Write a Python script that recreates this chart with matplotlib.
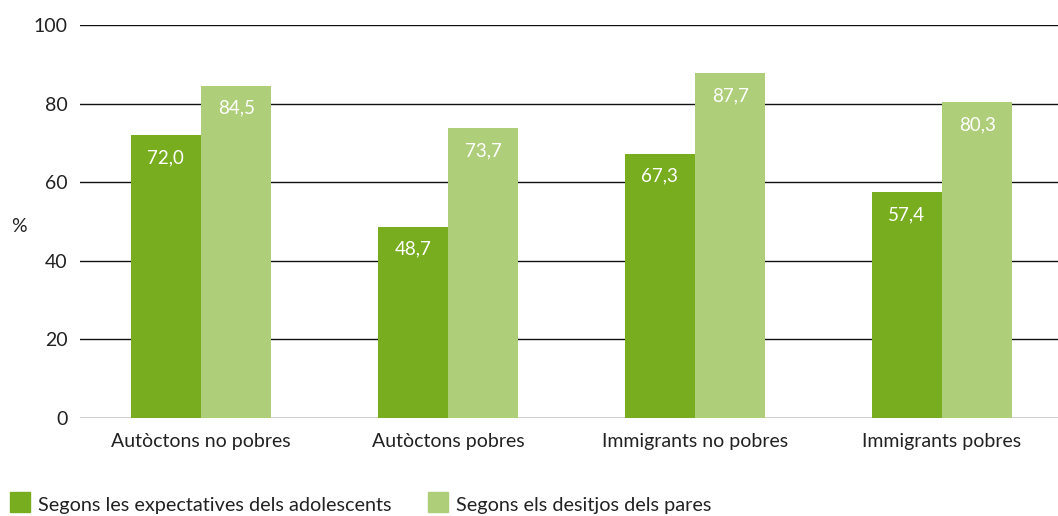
import numpy as np
import matplotlib.pyplot as plt

# data
categories = ['Autòctons no pobres', 'Autòctons pobres', 'Immigrants no pobres', 'Immigrants pobres']
expectatives = [72.0, 48.7, 67.3, 57.4]
desitjos = [84.5, 73.7, 87.7, 80.3]
series_names = ['Segons les expectatives dels adolescents', 'Segons els desitjos dels pares']

dark = '#77ad1f'
light = '#aece7a'

plt.rcParams['font.family'] = ['Lato', 'DejaVu Sans']

fig = plt.figure(figsize=(10.58, 5.16), dpi=100)
ax = fig.add_axes([80 / 1058, 1 - 418 / 516, 1 - 80 / 1058, (418 - 25) / 516])

x = np.arange(len(categories))
w = 0.285
b1 = ax.bar(x - w / 2, expectatives, w, color=dark, zorder=3)
b2 = ax.bar(x + w / 2, desitjos, w, color=light, zorder=3)

for bars, vals in ((b1, expectatives), (b2, desitjos)):
    for rect, v in zip(bars, vals):
        ax.text(rect.get_x() + rect.get_width() / 2, v - 5.7,
                f'{v:.1f}'.replace('.', ','), ha='center', va='center',
                color='white', fontsize=13.5, zorder=4)

ax.set_xlim(-0.49, 3.47)
ax.set_ylim(0, 100)
ax.set_yticks(range(0, 101, 20))
ax.set_xticks(x)
ax.set_xticklabels(categories)
ax.yaxis.grid(True, color='#111111', lw=1.0, zorder=0)
ax.tick_params(axis='both', length=0, labelsize=14, colors='#222222')
ax.tick_params(axis='y', pad=9)
ax.tick_params(axis='x', pad=11)
for s in ax.spines.values():
    s.set_visible(False)

fig.text(11 / 1058, 1 - 226 / 516, '%', fontsize=14, color='#222222', ha='left', va='center')

# legend
for i, (name, col) in enumerate(zip(series_names, [dark, light])):
    x0 = [10, 428][i]
    fig.patches.append(plt.Rectangle((x0 / 1058, 1 - 512 / 516), 20 / 1058, 20 / 516,
                                     transform=fig.transFigure, color=col, figure=fig))
    fig.text((x0 + 28) / 1058, 1 - 505 / 516, name, fontsize=14.3, color='#222222',
             ha='left', va='center')

fig.savefig('out.png', dpi=100)
